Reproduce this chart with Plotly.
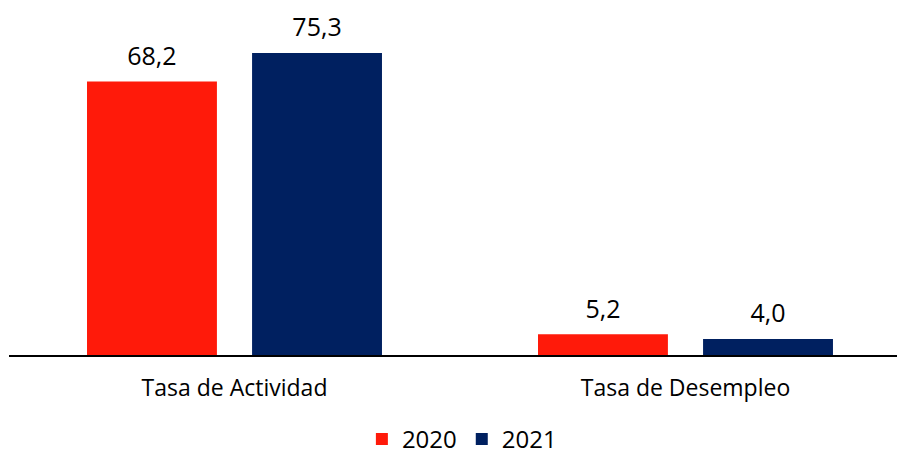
import plotly.graph_objects as go

categories = ["Tasa de Actividad", "Tasa de Desempleo"]
series_names = ["2020", "2021"]
values_2020 = [68.2, 5.2]
values_2021 = [75.3, 4.0]
colors = ["#FF1A0A", "#002060"]

def fmt(v):
    return f"{v:.1f}".replace(".", ",")

FONT = "Open Sans"
BARGAP = 0.268

fig = go.Figure()
for name, vals, col in zip(series_names, [values_2020, values_2021], colors):
    fig.add_trace(go.Bar(
        x=categories, y=vals, name=name, offsetgroup=name,
        marker=dict(color=col, line=dict(width=0)),
    ))
for name, vals in zip(series_names, [values_2020, values_2021]):
    fig.add_trace(go.Scatter(
        x=categories, y=vals, name=name + " labels", mode="markers+text",
        orientation="v", offsetgroup=name,
        marker=dict(size=15, opacity=0, color="white"),
        text=[fmt(v) for v in vals], textposition="top center",
        textfont=dict(family=FONT, size=25, color="#000000"),
        showlegend=False, hoverinfo="skip", cliponaxis=False,
    ))

fig.update_layout(
    width=897, height=457,
    margin=dict(l=9, r=0, t=20, b=102, autoexpand=False),
    paper_bgcolor="white", plot_bgcolor="white",
    barmode="group", bargap=BARGAP, bargroupgap=0.213,
    scattermode="group", scattergap=BARGAP,
    font=dict(family=FONT, size=20, color="#000000"),
    showlegend=True,
    legend=dict(orientation="h", x=0.51, xanchor="center", yref="paper",
                y=-0.252, yanchor="middle", bgcolor="rgba(0,0,0,0)",
                font=dict(family=FONT, size=24), itemwidth=30, traceorder="normal"),
    xaxis=dict(range=[-0.5, 1.469], showline=True, linecolor="#000000", linewidth=1.5,
               ticks="", tickfont=dict(family=FONT, size=23), showgrid=False,
               ticklabelstandoff=12),
    yaxis=dict(range=[0, 83.5], visible=False, showgrid=False, zeroline=False),
)

fig.write_html("out.html")
